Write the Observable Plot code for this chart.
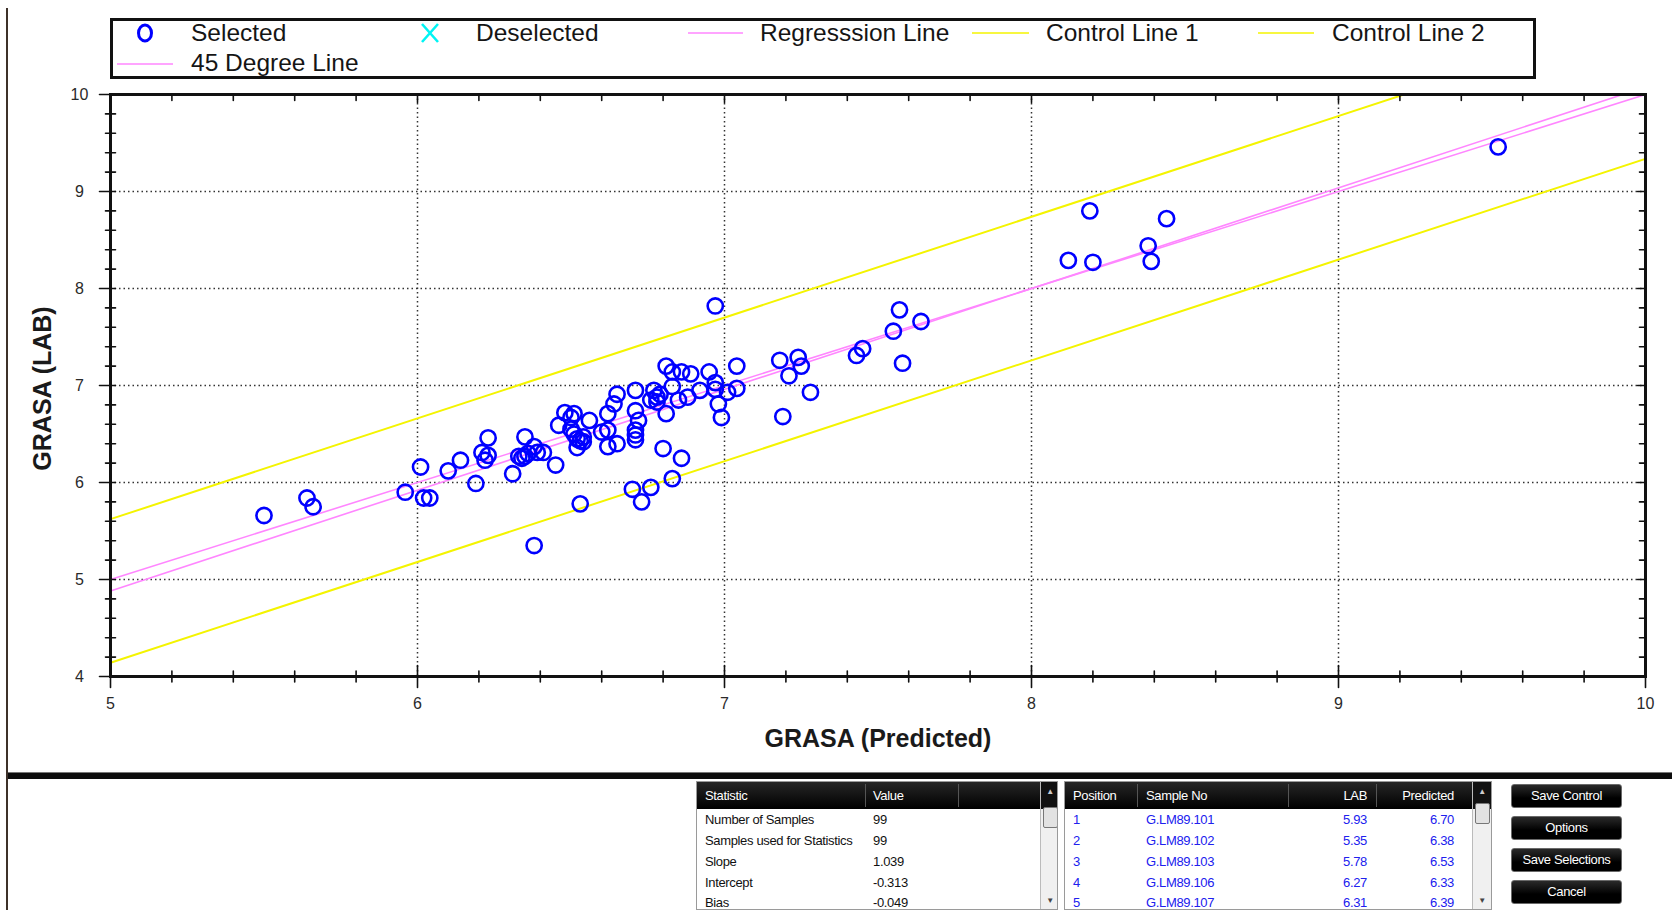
<!DOCTYPE html>
<html><head><meta charset="utf-8">
<script src="https://cdn.jsdelivr.net/npm/d3@7"></script>
<script src="https://cdn.jsdelivr.net/npm/@observablehq/plot@0.6"></script>
<style>
html,body{margin:0;padding:0;background:#fff;}
#root{position:relative;width:1672px;height:910px;overflow:hidden;font-family:"Liberation Sans",Arial,sans-serif;background:#fff;}
#root > svg.plot{position:absolute;left:0;top:0;}
.abs{position:absolute;}
.tbl{position:absolute;top:781px;height:129px;border:1px solid #9a9a9a;background:#fff;box-sizing:border-box;overflow:hidden;font-size:13px;letter-spacing:-0.35px;}
.hdr{position:absolute;left:0;top:0;right:0;height:27px;background:linear-gradient(#262626,#000);}
.hdr span{position:absolute;top:6px;color:#fff;white-space:nowrap;}
.hdr i{position:absolute;top:2px;width:1px;height:23px;background:#555;}
.row{position:absolute;white-space:nowrap;}
.sb{position:absolute;top:0;width:18px;bottom:0;background:#f0f0f0;border-left:1px solid #bbb;}
.sb .top{position:absolute;left:0;top:0;width:18px;height:27px;background:#111;color:#ccc;font-size:8px;text-align:center;line-height:20px;}
.sb .thumb{position:absolute;left:2px;width:13px;height:19px;background:#e2e2e2;border:1px solid #777;border-radius:2px;}
.sb .bot{position:absolute;left:0;bottom:0;width:18px;height:16px;color:#444;font-size:8px;text-align:center;line-height:16px;}
.btn{position:absolute;left:1511px;width:111px;height:24px;background:linear-gradient(#2a2a2a,#000 60%);border:1px solid #6a6a6a;border-radius:3px;box-sizing:border-box;color:#fff;font-size:13px;letter-spacing:-0.35px;text-align:center;line-height:22px;}
</style></head><body><div id="root"></div>
<script>
// ---- chart data (Predicted on x, LAB on y) ----
const predicted = [
  5.50,5.64,5.66,6.97,7.18,7.19,7.21,7.24,7.25,7.28,
  7.43,7.45,7.55,7.57,7.58,7.64,8.12,8.19,8.20,8.38,
  8.39,8.44,9.52,
  5.96,6.01,6.02,6.04,6.10,6.14,6.19,6.21,6.23,6.22,
  6.23,6.31,6.33,6.34,6.35,6.35,6.36,6.38,6.39,6.41,
  6.45,6.38,6.46,6.48,6.50,6.51,6.50,6.51,6.52,6.53,
  6.54,6.54,6.53,6.56,6.60,6.62,6.62,6.62,6.65,6.64,
  6.65,6.71,6.71,6.72,6.71,6.71,6.71,6.70,6.73,6.76,
  6.77,6.76,6.78,6.79,6.81,6.81,6.80,6.83,6.83,6.83,
  6.85,6.86,6.86,6.88,6.89,6.92,6.95,6.97,6.97,6.98,
  6.99,7.01,7.04,7.04,6.52,6.78
];
const lab = [
  5.66,5.84,5.75,7.82,7.26,6.68,7.10,7.29,7.20,6.93,
  7.31,7.38,7.56,7.78,7.23,7.66,8.29,8.80,8.27,8.44,
  8.28,8.72,9.46,
  5.90,6.16,5.84,5.84,6.12,6.23,5.99,6.31,6.28,6.23,
  6.46,6.09,6.27,6.25,6.47,6.27,6.30,6.37,6.31,6.31,
  6.18,5.35,6.59,6.72,6.67,6.71,6.55,6.50,6.36,6.43,
  6.42,6.47,5.78,6.64,6.52,6.54,6.71,6.37,6.40,6.81,
  6.91,6.95,6.74,6.64,6.54,6.49,6.44,5.93,5.80,5.95,
  6.95,6.85,6.88,6.91,7.20,6.71,6.35,7.14,6.99,6.04,
  6.85,7.14,6.25,6.88,7.12,6.95,7.14,7.03,6.96,6.81,
  6.67,6.93,6.97,7.20,6.45,6.83
];
const xMajorTicks = [5, 6, 7, 8, 9, 10];
const yMajorTicks = [4, 5, 6, 7, 8, 9, 10];
const xMinorTicks = [5.2,5.4,5.6,5.8,6.2,6.4,6.6,6.8,7.2,7.4,7.6,7.8,8.2,8.4,8.6,8.8,9.2,9.4,9.6,9.8];
const yMinorTicks = [4.2,4.4,4.6,4.8,5.2,5.4,5.6,5.8,6.2,6.4,6.6,6.8,7.2,7.4,7.6,7.8,8.2,8.4,8.6,8.8,9.2,9.4,9.6,9.8];
const xGridTicks = [6, 7, 8, 9];
const yGridTicks = [5, 6, 7, 8, 9];
const regressionSlope = 1.039;
const regressionIntercept = -0.313;
const controlOffset = 0.74;
const lineEndsX = [5, 10];
const xTitle = "GRASA (Predicted)";
const yTitle = "GRASA (LAB)";
const legendLabels = ["Selected", "Deselected", "Regresssion Line", "Control Line 1", "Control Line 2", "45 Degree Line"];
// ---- table data ----
const statHeaders = ["Statistic", "Value"];
const statNames = ["Number of Samples", "Samples used for Statistics", "Slope", "Intercept", "Bias"];
const statValues = ["99", "99", "1.039", "-0.313", "-0.049"];
const sampleHeaders = ["Position", "Sample No", "LAB", "Predicted"];
const samplePositions = ["1", "2", "3", "4", "5"];
const sampleNos = ["G.LM89.101", "G.LM89.102", "G.LM89.103", "G.LM89.106", "G.LM89.107"];
const sampleLab = ["5.93", "5.35", "5.78", "6.27", "6.31"];
const samplePred = ["6.70", "6.38", "6.53", "6.33", "6.39"];
const buttonLabels = ["Save Control", "Options", "Save Selections", "Cancel"];

const PINK = "#ff86ff", YELLOW = "#f4f400", BLUE = "#0000ff";
const points = predicted.map((p, i) => ({pred: p, lab: lab[i]}));
const line45 = lineEndsX.map(x => ({x, y: x}));
const regLine = lineEndsX.map(x => ({x, y: regressionSlope * x + regressionIntercept}));
const ctrl1 = regLine.map(d => ({x: d.x, y: d.y + controlOffset}));
const ctrl2 = regLine.map(d => ({x: d.x, y: d.y - controlOffset}));

const root = document.getElementById("root");
const tickStyle = {stroke: "#111", strokeWidth: 1.6, r: 0};

const chart = Plot.plot({
  width: 1672, height: 770,
  marginLeft: 110, marginRight: 27, marginTop: 94, marginBottom: 94,
  x: {domain: [5, 10]},
  y: {domain: [4, 10]},
  style: {background: "transparent", fontFamily: "'Liberation Sans', Arial, sans-serif", fontSize: "16px", color: "#333"},
  marks: [
    Plot.gridX({ticks: xGridTicks, stroke: "#333", strokeOpacity: 1, strokeWidth: 1.5, strokeDasharray: "1.5,3"}),
    Plot.gridY({ticks: yGridTicks, stroke: "#333", strokeOpacity: 1, strokeWidth: 1.5, strokeDasharray: "1.5,3"}),
    Plot.line(ctrl1, {x: "x", y: "y", stroke: YELLOW, strokeWidth: 2, clip: true}),
    Plot.line(ctrl2, {x: "x", y: "y", stroke: YELLOW, strokeWidth: 2, clip: true}),
    Plot.line(line45, {x: "x", y: "y", stroke: PINK, strokeWidth: 1.6, clip: true}),
    Plot.line(regLine, {x: "x", y: "y", stroke: PINK, strokeWidth: 1.6, clip: true}),
    Plot.dot(points, {x: "pred", y: "lab", r: 7.6, stroke: BLUE, strokeWidth: 2.6, fill: "none"}),
    Plot.frame({stroke: "#111", strokeWidth: 3}),
    // bottom ticks (crossing the axis)
    Plot.vector(xMajorTicks, {x: d => d, frameAnchor: "bottom", rotate: 0, anchor: "middle", length: 22, ...tickStyle}),
    Plot.vector(xMinorTicks, {x: d => d, frameAnchor: "bottom", rotate: 0, anchor: "middle", length: 11, ...tickStyle}),
    // top ticks (inward)
    Plot.vector(xMinorTicks, {x: d => d, frameAnchor: "top", rotate: 180, anchor: "start", length: 6, ...tickStyle}),
    Plot.vector(xGridTicks, {x: d => d, frameAnchor: "top", rotate: 180, anchor: "start", length: 8, ...tickStyle}),
    // left ticks (crossing)
    Plot.vector(yMajorTicks, {y: d => d, frameAnchor: "left", rotate: 90, anchor: "middle", length: 16, dx: -3, ...tickStyle}),
    Plot.vector(yMinorTicks, {y: d => d, frameAnchor: "left", rotate: 90, anchor: "middle", length: 10, ...tickStyle}),
    // right ticks (inward)
    Plot.vector(yMinorTicks, {y: d => d, frameAnchor: "right", rotate: 270, anchor: "start", length: 6, ...tickStyle}),
    Plot.vector(yGridTicks, {y: d => d, frameAnchor: "right", rotate: 270, anchor: "start", length: 8, ...tickStyle}),
    Plot.axisX({ticks: xMajorTicks, tickSize: 0, tickPadding: 21, tickFormat: d => String(d), label: null, fill: "#2a2a2a"}),
    Plot.axisY({ticks: yMajorTicks, tickSize: 0, tickPadding: 31, tickFormat: d => String(d), textAnchor: "middle", label: null, fill: "#2a2a2a"}),
    Plot.text([xTitle], {frameAnchor: "bottom", dy: 62.5, text: d => d, fontSize: 25, fontWeight: "bold", fill: "#1a1a1a", textAnchor: "middle", lineAnchor: "middle"}),
    Plot.text([yTitle], {frameAnchor: "left", dx: -68, dy: 3, rotate: -90, text: d => d, fontSize: 25, fontWeight: "bold", fill: "#1a1a1a", textAnchor: "middle", lineAnchor: "middle"})
  ]
});
chart.classList.add("plot");
root.appendChild(chart);

// ---- legend ----
const lg = d3.select(root).append("svg").attr("class", "abs")
  .style("left", "0px").style("top", "0px").attr("width", 1672).attr("height", 90);
lg.append("rect").attr("x", 111.5).attr("y", 19.5).attr("width", 1423).attr("height", 58)
  .attr("fill", "#fff").attr("stroke", "#111").attr("stroke-width", 3);
const row1 = 32, row2 = 62;
lg.append("ellipse").attr("cx", 145).attr("cy", row1 + 1).attr("rx", 6.5).attr("ry", 8)
  .attr("fill", "none").attr("stroke", BLUE).attr("stroke-width", 3);
lg.append("path").attr("d", `M422,${row1-8}L438,${row1+10}M438,${row1-8}L422,${row1+10}`)
  .attr("stroke", "#00f4f4").attr("stroke-width", 2.6).attr("fill", "none");
[[688, 743, row1 + 1, PINK], [972, 1029, row1 + 1, YELLOW], [1258, 1314, row1 + 1, YELLOW], [117, 173, row2 + 2, PINK]]
  .forEach(([a, b, y, c]) => lg.append("line").attr("x1", a).attr("x2", b).attr("y1", y).attr("y2", y)
    .attr("stroke", c).attr("stroke-width", 1.6));
const lgPos = [[191, row1], [476, row1], [760, row1], [1046, row1], [1332, row1], [191, row2]];
legendLabels.forEach((t, i) => lg.append("text").attr("x", lgPos[i][0]).attr("y", lgPos[i][1])
  .attr("dy", "0.35em").attr("font-size", 24.5).attr("fill", "#151515")
  .attr("font-family", "'Liberation Sans', Arial, sans-serif").text(t));

// ---- window chrome ----
const sel = d3.select(root);
sel.append("div").attr("class", "abs").style("left", "6px").style("top", "8px").style("width", "2px")
  .style("bottom", "0px").style("background", "#3d3129");
sel.append("div").attr("class", "abs").style("left", "8px").style("right", "0px").style("top", "772px")
  .style("height", "6px").style("background", "#0d0d0d").style("border-top", "1px solid #777");

// ---- tables ----
const rowTops = [811, 832, 853, 874, 894];
function table(left, width, headers, hx) {
  const t = sel.append("div").attr("class", "tbl").style("left", left + "px").style("width", width + "px");
  const h = t.append("div").attr("class", "hdr");
  headers.forEach((s, i) => {
    const sp = h.append("span").text(s);
    if (hx[i] < 0) sp.style("right", (-hx[i]) + "px"); else sp.style("left", hx[i] + "px");
  });
  return t;
}
// table 1
const t1 = table(696, 362, statHeaders, [8, 176]);
t1.select(".hdr").append("i").style("left", "168px");
t1.select(".hdr").append("i").style("left", "261px");
statNames.forEach((s, i) => {
  t1.append("div").attr("class", "row").style("left", "8px").style("top", (rowTops[i] - 781) + "px").style("color", "#111").text(s);
  t1.append("div").attr("class", "row").style("left", "176px").style("top", (rowTops[i] - 781) + "px").style("color", "#111").text(statValues[i]);
});
const sb1 = t1.append("div").attr("class", "sb").style("left", "343px");
sb1.append("div").attr("class", "top").text("▲");
sb1.append("div").attr("class", "thumb").style("top", "25px");
sb1.append("div").attr("class", "bot").text("▼");

// table 2
const t2 = table(1064, 428, sampleHeaders, [8, 81, -124, -37]);
[72, 223, 311].forEach(x => t2.select(".hdr").append("i").style("left", x + "px"));
samplePositions.forEach((p, i) => {
  const top = (rowTops[i] - 781) + "px";
  t2.append("div").attr("class", "row").style("left", "8px").style("top", top).style("color", "#2020ee").text(p);
  t2.append("div").attr("class", "row").style("left", "81px").style("top", top).style("color", "#2020ee").text(sampleNos[i]);
  t2.append("div").attr("class", "row").style("right", "124px").style("top", top).style("color", "#2020ee").text(sampleLab[i]);
  t2.append("div").attr("class", "row").style("right", "37px").style("top", top).style("color", "#2020ee").text(samplePred[i]);
});
const sb2 = t2.append("div").attr("class", "sb").style("left", "407px");
sb2.append("div").attr("class", "top").text("▲");
sb2.append("div").attr("class", "thumb").style("top", "21px");
sb2.append("div").attr("class", "bot").text("▼");

// buttons
const btnTops = [784, 816, 848, 880];
buttonLabels.forEach((b, i) => sel.append("div").attr("class", "btn").style("top", btnTops[i] + "px").text(b));
</script>
</body></html>
